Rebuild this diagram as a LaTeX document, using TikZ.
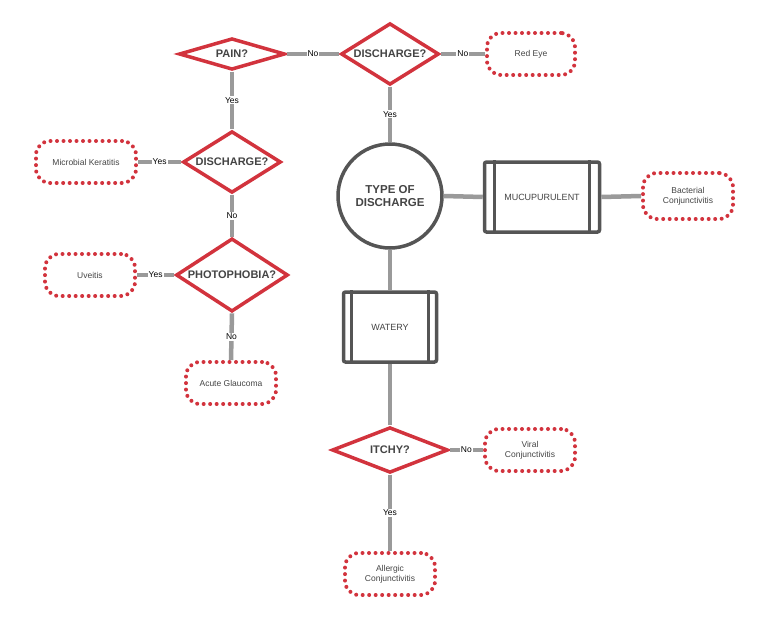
\documentclass[tikz,border=0pt]{standalone}
\usepackage{fontspec}
\setmainfont{Liberation Sans}
\usetikzlibrary{shapes.geometric}
\definecolor{rd}{HTML}{D2333D}
\definecolor{gl}{HTML}{9A9A9A}
\definecolor{dk}{HTML}{555555}
\begin{document}
\begin{tikzpicture}[x=1pt,y=-1pt,
 dia/.style={diamond,draw=rd,line width=3.5pt,fill=white,minimum width=#1,aspect=1.35,inner sep=0pt,font=\bfseries\fontsize{11}{12}\selectfont,text=dk!80!black},
 leaf/.style={rounded corners=14pt,draw=rd,line width=4pt,dash pattern=on 0pt off 6.5pt,line cap=round,minimum width=#1,minimum height=42pt,align=center,font=\fontsize{8.5}{10}\selectfont,text=dk!80!black},
 conn/.style={draw=gl,line width=4.5pt},
 lab/.style={fill=white,inner sep=1pt,font=\fontsize{8.5}{10}\selectfont,text=black},
 box/.style={draw=dk,line width=3.5pt,rounded corners=2pt,fill=white,font=\fontsize{9}{10}\selectfont,text=dk!80!black}]
\useasboundingbox (0,0) rectangle (768,623);
\node[dia=106pt] (pain) at (232,54) {PAIN?};
\node[dia=98pt] (dis1) at (390,54) {DISCHARGE?};
\node[leaf=88pt] (red) at (531,54) {Red Eye};
\node[dia=98pt] (dis2) at (232,162) {DISCHARGE?};
\node[leaf=100pt] (mk) at (86,162) {Microbial Keratitis};
\node[dia=112pt] (pho) at (232,275) {PHOTOPHOBIA?};
\node[leaf=90pt] (uv) at (90,275) {Uveitis};
\node[leaf=90pt] (ag) at (231,383) {Acute Glaucoma};
\node[circle,draw=dk,line width=3.5pt,fill=white,minimum size=104pt,align=center,font=\bfseries\fontsize{11.5}{13}\selectfont,text=dk!80!black] (type) at (390,196) {TYPE OF\\DISCHARGE};
\node[box,minimum width=115pt,minimum height=70pt] (muc) at (542,197) {MUCUPURULENT};
\node[leaf=90pt,minimum height=46pt] (bac) at (688,196) {Bacterial\\Conjunctivitis};
\node[box,minimum width=93pt,minimum height=70pt] (wat) at (390,327) {WATERY};
\node[dia=116pt,aspect=1.05] (itchy) at (390,450) {ITCHY?};
\node[leaf=90pt] (vir) at (530,450) {Viral\\Conjunctivitis};
\node[leaf=90pt] (all) at (390,574) {Allergic\\Conjunctivitis};
\begin{scope}[on background layer/.try]
\end{scope}
% connectors (drawn, then nodes redrawn on top via order trick)
\begin{scope}
\path[conn] (pain.east) -- node[lab]{No} (dis1.west);
\path[conn] (dis1.east) -- node[lab]{No} (red.west);
\path[conn] (dis1.south) -- node[lab]{Yes} (type.north);
\path[conn] (pain.south) -- node[lab]{Yes} (dis2.north);
\path[conn] (dis2.west) -- node[lab]{Yes} (mk.east);
\path[conn] (dis2.south) -- node[lab]{No} (pho.north);
\path[conn] (pho.west) -- node[lab]{Yes} (uv.east);
\path[conn] (pho.south) -- node[lab]{No} (ag.north);
\path[conn] (type.east) -- (muc.west);
\path[conn] (muc.east) -- (bac.west);
\path[conn] (type.south) -- (wat.north);
\path[conn] (wat.south) -- (itchy.north);
\path[conn] (itchy.east) -- node[lab]{No} (vir.west);
\path[conn] (itchy.south) -- node[lab]{Yes} (all.north);
\end{scope}
\draw[dk,line width=3pt] ([xshift=12pt]muc.north west) -- ([xshift=12pt]muc.south west);
\draw[dk,line width=3pt] ([xshift=-12pt]muc.north east) -- ([xshift=-12pt]muc.south east);
\draw[dk,line width=3pt] ([xshift=10pt]wat.north west) -- ([xshift=10pt]wat.south west);
\draw[dk,line width=3pt] ([xshift=-10pt]wat.north east) -- ([xshift=-10pt]wat.south east);
\end{tikzpicture}
\end{document}
